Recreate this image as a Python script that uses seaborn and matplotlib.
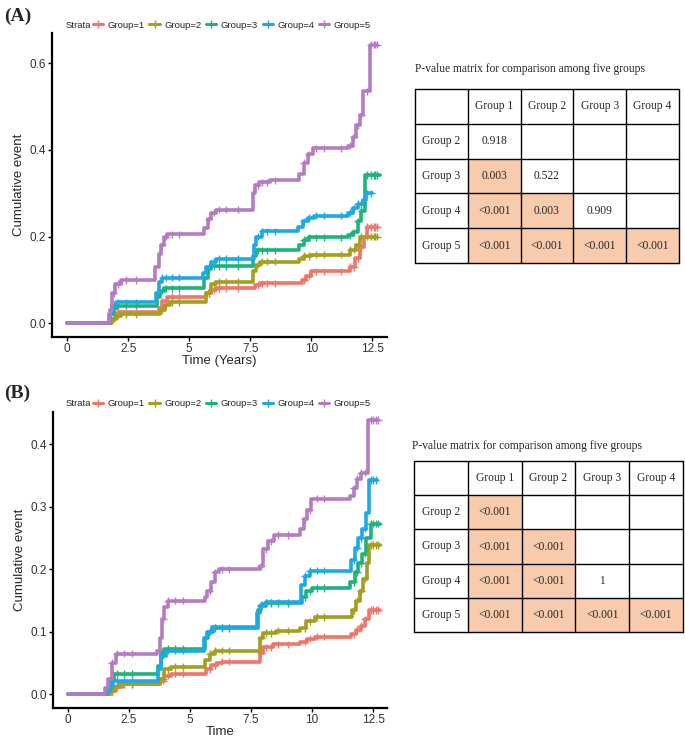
import numpy as np
import pandas as pd
import matplotlib
matplotlib.use("Agg")
import matplotlib.pyplot as plt
from matplotlib.lines import Line2D
from matplotlib.patches import Rectangle
import seaborn as sns

# ---------------- data ----------------
GROUPS = ["Group=1", "Group=2", "Group=3", "Group=4", "Group=5"]
COLORS = ["#F0766C", "#A3A020", "#1DB37A", "#1EA9E6", "#B47CC2"]

# Panel A : step curves (time, cumulative event)
A1_T = [0, 1.8, 1.95, 2.1, 3.75, 3.9, 4.1, 5.7, 5.85, 6.1, 7.7, 7.9, 9.6, 9.8, 10.0, 11.6, 11.8, 12.0, 12.15, 12.3, 12.7]
A1_V = [0, 0.01, 0.02, 0.025, 0.035, 0.05, 0.06, 0.07, 0.076, 0.081, 0.087, 0.092, 0.1, 0.11, 0.12, 0.13, 0.15, 0.175, 0.2, 0.222, 0.222]
A2_T = [0, 1.85, 2.0, 2.2, 3.8, 4.0, 4.2, 5.7, 5.9, 6.1, 7.6, 7.75, 7.9, 9.5, 9.7, 10.0, 11.6, 11.85, 12.0, 12.7]
A2_V = [0, 0.01, 0.017, 0.02, 0.03, 0.042, 0.048, 0.07, 0.09, 0.096, 0.12, 0.135, 0.142, 0.148, 0.155, 0.158, 0.17, 0.18, 0.2, 0.2]
A3_T = [0, 1.75, 1.9, 2.05, 3.7, 3.8, 3.95, 5.6, 5.75, 5.9, 7.6, 7.75, 9.5, 9.7, 9.9, 11.5, 11.7, 11.9, 12.05, 12.2, 12.8]
A3_V = [0, 0.02, 0.035, 0.04, 0.06, 0.075, 0.08, 0.105, 0.125, 0.131, 0.155, 0.168, 0.18, 0.193, 0.198, 0.203, 0.21, 0.235, 0.26, 0.342, 0.342]
A4_T = [0, 1.7, 1.85, 2.0, 3.65, 3.75, 3.9, 5.55, 5.7, 5.9, 6.1, 7.65, 7.75, 8.0, 9.45, 9.65, 9.85, 10.1, 11.5, 11.7, 11.9, 12.1, 12.25, 12.5]
A4_V = [0, 0.02, 0.04, 0.048, 0.07, 0.095, 0.105, 0.115, 0.13, 0.142, 0.148, 0.18, 0.2, 0.212, 0.222, 0.235, 0.243, 0.248, 0.255, 0.265, 0.275, 0.285, 0.3, 0.3]
A5_T = [0, 1.75, 1.85, 1.95, 2.2, 3.6, 3.75, 3.85, 3.95, 4.1, 5.6, 5.75, 5.9, 6.1, 7.6, 7.7, 7.85, 8.3, 9.5, 9.7, 9.85, 10.05, 11.5, 11.7, 11.85, 12.0, 12.1, 12.4, 12.7]
A5_V = [0, 0.03, 0.07, 0.09, 0.1, 0.13, 0.16, 0.18, 0.2, 0.205, 0.22, 0.24, 0.255, 0.262, 0.3, 0.318, 0.325, 0.33, 0.345, 0.37, 0.39, 0.404, 0.41, 0.43, 0.457, 0.48, 0.535, 0.643, 0.643]

# Panel B
B1_T = [0, 1.75, 1.95, 2.2, 3.75, 3.95, 4.2, 5.65, 5.85, 6.1, 6.3, 7.85, 8.0, 8.4, 9.5, 9.8, 10.1, 11.6, 11.8, 12.0, 12.15, 12.35, 12.8]
B1_V = [0, 0.005, 0.012, 0.016, 0.022, 0.03, 0.033, 0.04, 0.047, 0.05, 0.052, 0.066, 0.075, 0.08, 0.084, 0.089, 0.092, 0.096, 0.103, 0.11, 0.12, 0.135, 0.135]
B2_T = [0, 1.7, 1.9, 2.1, 3.75, 3.95, 4.2, 5.6, 5.8, 6.0, 7.85, 8.0, 8.5, 9.5, 9.75, 10.1, 11.65, 11.8, 11.95, 12.1, 12.25, 12.35, 12.8]
B2_V = [0, 0.005, 0.012, 0.016, 0.025, 0.04, 0.044, 0.055, 0.065, 0.07, 0.09, 0.098, 0.102, 0.106, 0.117, 0.124, 0.135, 0.15, 0.165, 0.185, 0.21, 0.239, 0.239]
B3_T = [0, 1.6, 1.75, 1.9, 3.7, 3.8, 3.95, 5.6, 5.75, 5.95, 7.8, 7.9, 8.1, 9.6, 9.75, 10.0, 11.55, 11.75, 11.9, 12.05, 12.2, 12.4, 12.8]
B3_V = [0, 0.01, 0.025, 0.033, 0.045, 0.068, 0.073, 0.09, 0.1, 0.106, 0.135, 0.143, 0.146, 0.155, 0.165, 0.17, 0.18, 0.195, 0.21, 0.225, 0.25, 0.273, 0.273]
B4_T = [0, 1.55, 1.7, 1.85, 3.7, 3.8, 4.0, 5.55, 5.7, 5.9, 7.75, 7.85, 8.1, 9.55, 9.7, 9.9, 11.6, 11.75, 11.9, 12.05, 12.2, 12.35, 12.65]
B4_V = [0, 0.005, 0.015, 0.022, 0.04, 0.062, 0.07, 0.09, 0.1, 0.107, 0.13, 0.142, 0.147, 0.175, 0.19, 0.198, 0.215, 0.235, 0.25, 0.265, 0.29, 0.343, 0.343]
B5_T = [0, 1.5, 1.65, 1.8, 1.95, 3.65, 3.75, 3.85, 3.95, 4.1, 5.6, 5.7, 5.85, 6.0, 6.2, 7.85, 8.0, 8.2, 8.45, 9.5, 9.65, 9.8, 9.95, 11.55, 11.7, 11.85, 12.0, 12.3, 12.7]
B5_V = [0, 0.01, 0.025, 0.05, 0.065, 0.07, 0.09, 0.12, 0.14, 0.15, 0.155, 0.165, 0.18, 0.195, 0.2, 0.205, 0.232, 0.245, 0.255, 0.265, 0.28, 0.295, 0.313, 0.318, 0.33, 0.345, 0.355, 0.439, 0.439]

# censoring times (tick marks)
CENSOR_A = [1.9, 2.1, 2.4, 2.8, 3.9, 4.05, 4.3, 4.6, 5.8, 6.0, 6.2, 6.5, 7.0, 7.8, 8.0, 8.2, 8.5, 9.7, 9.9, 10.2, 10.5,
            11.2, 11.6, 11.75, 11.9, 12.05, 12.3, 12.45, 12.55, 12.62, 12.7]
CENSOR_B = [1.8, 2.0, 2.3, 2.6, 3.9, 4.1, 4.4, 4.7, 5.8, 6.0, 6.3, 6.6, 7.9, 8.1, 8.3, 8.6, 9.0, 9.7, 9.9, 10.2, 10.5,
            11.7, 11.85, 12.0, 12.15, 12.4, 12.5, 12.6, 12.7]

CURVES_A = [(A1_T, A1_V), (A2_T, A2_V), (A3_T, A3_V), (A4_T, A4_V), (A5_T, A5_V)]
CURVES_B = [(B1_T, B1_V), (B2_T, B2_V), (B3_T, B3_V), (B4_T, B4_V), (B5_T, B5_V)]

ROW_LABELS = ["Group 2", "Group 3", "Group 4", "Group 5"]
COL_LABELS = ["Group 1", "Group 2", "Group 3", "Group 4"]
PVAL_A = [["0.918", "", "", ""],
          ["0.003", "0.522", "", ""],
          ["<0.001", "0.003", "0.909", ""],
          ["<0.001", "<0.001", "<0.001", "<0.001"]]
PVAL_B = [["<0.001", "", "", ""],
          ["<0.001", "<0.001", "", ""],
          ["<0.001", "<0.001", "1", ""],
          ["<0.001", "<0.001", "<0.001", "<0.001"]]
TABLE_TITLE = "P-value matrix for comparison among five groups"

# ---------------- style ----------------
sns.set_theme(style="ticks")
plt.rcParams["font.family"] = ["Liberation Sans", "DejaVu Sans"]

W, H = 685, 739
fig = plt.figure(figsize=(W / 100, H / 100), dpi=100)


def fx(px):
    return px / W


def fy(py):
    return 1 - py / H


def step_value(t, v, x):
    idx = np.searchsorted(np.asarray(t), x, side="right") - 1
    return np.asarray(v)[idx]


def draw_km(rect, curves, censor, xlim, ylim, yticks, xlabel):
    ax = fig.add_axes(rect)
    rows, crows = [], []
    for g, (t, v) in zip(GROUPS, curves):
        for ti, vi in zip(t, v):
            rows.append({"time": ti, "cum": vi, "group": g})
        for c in censor:
            if c <= t[-1]:
                crows.append({"time": c, "cum": step_value(t, v, c), "group": g})
    df = pd.DataFrame(rows)
    cdf = pd.DataFrame(crows)
    pal = dict(zip(GROUPS, COLORS))
    sns.lineplot(data=df, x="time", y="cum", hue="group", palette=pal,
                 estimator=None, sort=False, drawstyle="steps-post",
                 linewidth=2.6, legend=False, ax=ax)
    sns.scatterplot(data=cdf, x="time", y="cum", hue="group", palette=pal,
                    marker="+", s=28, linewidth=1.0, legend=False, ax=ax)
    ax.set_xlim(*xlim)
    ax.set_ylim(*ylim)
    ax.set_xticks([0, 2.5, 5, 7.5, 10, 12.5])
    ax.set_xticklabels(["0", "2.5", "5", "7.5", "10", "12.5"])
    ax.set_yticks(yticks)
    ax.set_yticklabels([f"{y:.1f}" for y in yticks])
    for s in ["top", "right"]:
        ax.spines[s].set_visible(False)
    for s in ["left", "bottom"]:
        ax.spines[s].set_linewidth(1.6)
        ax.spines[s].set_color("black")
    ax.tick_params(axis="both", length=3, width=1.0, color="black",
                   labelsize=8.5, labelcolor="#333333", pad=1.5)
    ax.set_xlabel(xlabel, fontsize=9.5, labelpad=-0.5)
    ax.set_ylabel("Cumulative event", fontsize=9.5, labelpad=3)
    return ax


def draw_legend(y_px):
    fig.text(fx(66), fy(y_px), "Strata", fontsize=6.8, va="center", ha="left")
    handles = [Line2D([], [], color=c, lw=2.2, marker="+", markersize=6, markeredgewidth=1.0)
               for c in COLORS]
    fig.legend(handles, GROUPS, loc="center left", bbox_to_anchor=(fx(93), fy(y_px)),
               ncol=5, frameon=False, fontsize=6.8, handlelength=1.1,
               handletextpad=0.45, columnspacing=0.5, borderaxespad=0, borderpad=0)


def draw_table(left, right, top, bottom, title_y, title_x, pvals):
    ax = fig.add_axes([fx(left), fy(bottom), fx(right - left), (bottom - top) / H])
    ax.set_xlim(0, 5)
    ax.set_ylim(5, 0)
    ax.axis("off")
    fam = ["Liberation Serif", "DejaVu Serif"]
    for j, lab in enumerate(COL_LABELS):
        ax.text(j + 1.5, 0.5, lab, ha="center", va="center", fontsize=8.3, family=fam)
    for i, lab in enumerate(ROW_LABELS):
        ax.text(0.5, i + 1.5, lab, ha="center", va="center", fontsize=8.3, family=fam)
        for j, val in enumerate(pvals[i]):
            if val:
                num = float(val.replace("<", ""))
                if num < 0.05:
                    ax.add_patch(Rectangle((j + 1, i + 1), 1, 1, facecolor="#F8CBAD",
                                           edgecolor="none", zorder=0))
                ax.text(j + 1.5, i + 1.5, val, ha="center", va="center", fontsize=8.3, family=fam)
    for k in range(6):
        ax.plot([0, 5], [k, k], color="black", lw=1.0, clip_on=False, zorder=2)
        ax.plot([k, k], [0, 5], color="black", lw=1.0, clip_on=False, zorder=2)
    fig.text(fx(title_x), fy(title_y), TABLE_TITLE, fontsize=8.3, family=fam,
             ha="left", va="center")


# ---------------- panel A ----------------
draw_km([fx(52), fy(337), fx(387 - 52), 304 / H], CURVES_A, CENSOR_A,
        (-0.62, 13.1), (-0.032, 0.67), [0, 0.2, 0.4, 0.6], "Time (Years)")
draw_legend(25)
fig.text(fx(4), fy(16), "(A)", fontsize=14, fontweight="bold",
         family=["Liberation Serif", "DejaVu Serif"], va="center", ha="left")
draw_table(415, 679, 89, 263, 69, 415, PVAL_A)

# ---------------- panel B ----------------
draw_km([fx(53), fy(708), fx(387 - 53), 296 / H], CURVES_B, CENSOR_B,
        (-0.62, 13.07), (-0.022, 0.452), [0, 0.1, 0.2, 0.3, 0.4], "Time")
draw_legend(404)
fig.text(fx(4), fy(393), "(B)", fontsize=14, fontweight="bold",
         family=["Liberation Serif", "DejaVu Serif"], va="center", ha="left")
draw_table(414, 683, 461, 632, 446, 412, PVAL_B)

fig.savefig("out.png", dpi=100)
